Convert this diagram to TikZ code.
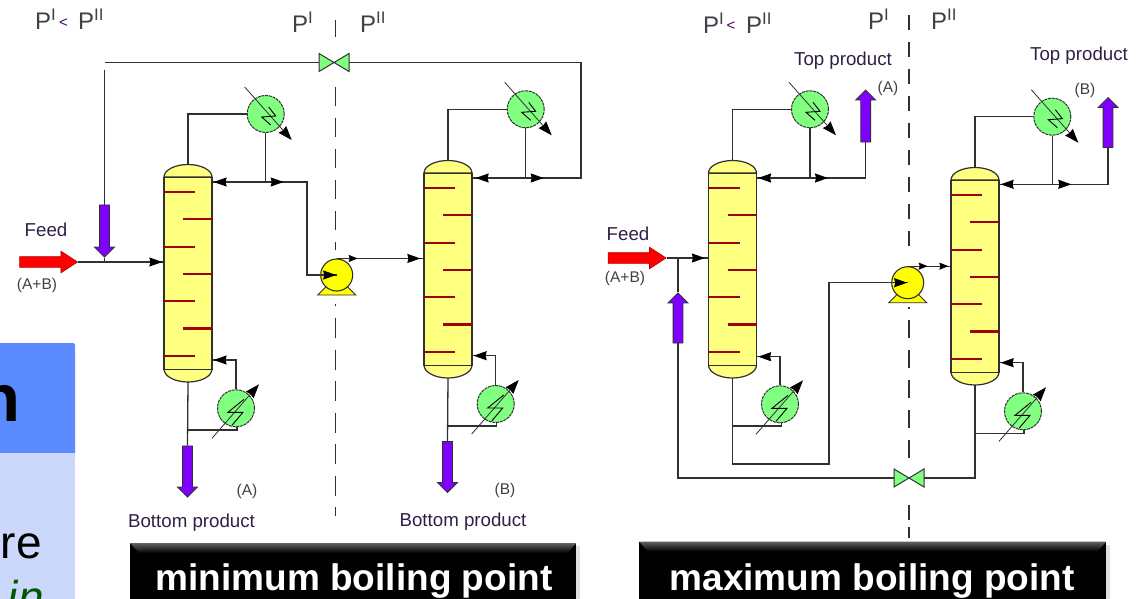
\documentclass[tikz,border=0pt]{standalone}
\usepackage{fontspec}
\setmainfont{Liberation Sans}
\usetikzlibrary{arrows.meta,decorations.markings,shapes.arrows}

\definecolor{shellyellow}{HTML}{FFFF80}
\definecolor{hxgreen}{HTML}{80FF80}
\definecolor{pumpyellow}{HTML}{FFFF00}
\definecolor{streampurple}{HTML}{8000FF}
\definecolor{traydark}{HTML}{A00000}
\definecolor{linedark}{HTML}{303030}
\definecolor{labelgrey}{HTML}{404048}
\definecolor{labelink}{HTML}{302048}
\definecolor{panelblue}{HTML}{5B8BFF}
\definecolor{panellight}{HTML}{CCD8FB}

\tikzset{
  shell/.style={draw=linedark,line width=1.2pt,fill=shellyellow},
  tray/.style={draw=traydark,line width=2.1pt},
  hxcircle/.style={circle,draw=linedark,dash pattern=on 3pt off 0.8pt,line width=1pt,fill=hxgreen,minimum size=37,inner sep=0},
  pumpcircle/.style={circle,draw=linedark,line width=1.1pt,fill=pumpyellow,minimum size=32,inner sep=0},
  wire/.style={draw=black,line width=0.9pt},
  coolant/.style={draw=linedark,line width=0.8pt,-{Stealth[length=14pt,width=10pt,inset=1pt,black]}},
  pipe/.style={draw=linedark,line width=1.3pt},
  divider/.style={draw=linedark,line width=1.3pt},
  tipat/.style={postaction={decorate,decoration={markings,
    mark=at position #1 with {\arrow{Stealth[length=13pt,width=9pt,inset=1pt,black]}}}}},
  smalltipat/.style={postaction={decorate,decoration={markings,
    mark=at position #1 with {\arrow{Stealth[length=9pt,width=7pt,inset=1pt,black]}}}}},
  valveside/.style={draw=linedark,line width=1pt,fill=hxgreen},
  blockarrow/.style={single arrow,draw=linedark,line width=0.8pt,fill=streampurple,inner xsep=0,inner ysep=4.5pt,
    single arrow head extend=5,single arrow head indent=0},
  feedarrow/.style={single arrow,draw=red!70!black,line width=0.6pt,fill=red,inner xsep=0,inner ysep=5pt,
    minimum height=58,single arrow head extend=5.5,single arrow tip angle=66},
  pressure/.style={text=labelgrey,font=\fontsize{24}{24}\selectfont,inner sep=0},
  lessthan/.style={text=red!40!blue!70!black,font=\fontsize{15}{15}\selectfont,inner sep=0},
  product/.style={text=labelink,font=\fontsize{18.7}{19}\selectfont,inner sep=0},
  species/.style={text=labelgrey,font=\fontsize{15.5}{16}\selectfont,inner sep=0},
  capbar/.style={fill=black,inner sep=0,anchor=north west},
  captext/.style={text=white,inner sep=0,anchor=base,font=\fontsize{37}{37}\bfseries\selectfont},
}

\newcommand{\pone}{P\textsuperscript{I}}
\newcommand{\ptwo}{P\textsuperscript{II}}

% name, x of axis, y of upper shoulder
\newcommand{\tower}[3]{
  \draw[shell] (#2-24,#3) arc[start angle=180,end angle=0,x radius=24pt,y radius=12.5pt] -- cycle;
  \draw[shell] (#2-24,#3+192) arc[start angle=180,end angle=360,x radius=24pt,y radius=13pt] -- cycle;
  \node[shell,minimum width=48,minimum height=192,anchor=north,inner sep=0] (tower#1) at (#2,#3) {};
  \coordinate (tower#1cap) at (#2,#3-12.5);
  \coordinate (tower#1base) at (#2,#3+205);
  \foreach \i in {0,2,4,6} \draw[tray] (#2-24,#3+15+27.3*\i) -- ++(31,0);
  \foreach \i in {1,3,5} \draw[tray] (#2+24,#3+15+27.3*\i) -- ++(-29,0);
}
% name, x, y
\newcommand{\condenser}[3]{
  \node[hxcircle] (cond#1) at (#2,#3) {};
  \draw[coolant] (#2-21,#3-27) -- (#2+26,#3+26);
  \draw[wire] (#2+3,#3-7) -- (#2+10,#3+2) -- (#2-4,#3+3) -- (#2+5,#3+11);
}
\newcommand{\reboiler}[3]{
  \node[hxcircle] (reb#1) at (#2,#3) {};
  \draw[coolant] (#2-24,#3+30) -- (#2+23,#3-24);
  \draw[wire] (#2+8,#3-9) -- (#2-8,#3+4) -- (#2+7,#3+4) -- (#2-4,#3+17);
}
\newcommand{\pump}[3]{
  \draw[fill=pumpyellow,draw=linedark,line width=0.9pt] (#2-19,#3+20) -- (#2+19,#3+20) -- (#2+9,#3+10) -- (#2-9,#3+10) -- cycle;
  \node[pumpcircle] (pump#1) at (#2,#3) {};
}
\newcommand{\valve}[3]{
  \node[inner sep=0,minimum width=30,minimum height=18] (valve#1) at (#2,#3) {};
  \draw[valveside] (#2-15,#3-9) -- (#2-15,#3+9) -- (#2,#3) -- cycle;
  \draw[valveside] (#2+15,#3-9) -- (#2+15,#3+9) -- (#2,#3) -- cycle;
}

\begin{document}
\begin{tikzpicture}[x=1pt,y=-1pt]
  \useasboundingbox (0,0) rectangle (1142,599);
  \fill[white] (0,0) rectangle (1142,599);

  % Slide panel cut off at the left edge
  \begin{scope}
    \clip (0,0) rectangle (1142,599);
    \fill[panelblue,rounded corners=2pt] (-5,343) rectangle (75,460);
    \fill[panellight] (-5,453) rectangle (75,604);
    \node[anchor=base east,inner sep=0,font=\fontsize{67}{67}\bfseries\selectfont] (panelhead) at (21,421) {n};
    \node[anchor=base east,inner sep=0,font=\fontsize{46}{46}\selectfont] (panelbody) at (42,558) {re};
    \node[anchor=base east,inner sep=0,text=green!35!black,font=\fontsize{46}{46}\itshape\selectfont] (panelnote) at (44,613) {in};
  \end{scope}

  % Pressure dividers
  \draw[divider] (335.5,20) -- (335.5,37);
  \draw[divider,dash pattern=on 19pt off 12pt] (335.5,87) -- (335.5,250);
  \draw[divider] (335.5,304) -- (335.5,306);
  \draw[divider,dash pattern=on 20pt off 11.5pt] (335.5,318) -- (335.5,516);
  \draw[divider,dash pattern=on 15pt off 12pt] (909,15) -- (909,255);
  \draw[divider] (909,307) -- (909,309);
  \draw[divider,dash pattern=on 18pt off 12pt] (909,320) -- (909,458);
  \draw[divider,dash pattern=on 15pt off 7pt] (909,505) -- (909,538);

  % Left pair
  \tower{A}{188}{177}
  \tower{B}{448}{173}
  \condenser{A}{265.7}{114}
  \condenser{B}{525.7}{109.3}
  \reboiler{A}{236}{408.3}
  \reboiler{B}{495.7}{404}
  \pump{A}{336.7}{275}
  \valve{A}{334}{62.5}

  % Right pair
  \tower{C}{732.5}{173}
  \tower{D}{975}{180}
  \condenser{C}{810}{109.3}
  \condenser{D}{1052.3}{116.7}
  \reboiler{C}{780}{404.3}
  \reboiler{D}{1023}{411.3}
  \pump{C}{907.7}{282.7}
  \valve{D}{909}{478}

  % Streams in and out
  \node[feedarrow] (feedA) at (44.5,262) {};
  \node[feedarrow] (feedC) at (633,258) {};
  \node[blockarrow,rotate=-90,minimum height=52] (injA) at (104.5,228.5) {};
  \node[blockarrow,rotate=-90,minimum height=51] (prodA) at (187.5,469) {};
  \node[blockarrow,rotate=-90,minimum height=51] (prodB) at (447.5,464.5) {};
  \node[blockarrow,rotate=90,minimum height=50] (injC) at (678,320.5) {};
  \node[blockarrow,rotate=90,minimum height=52] (prodC) at (865.7,118.5) {};
  \node[blockarrow,rotate=90,minimum height=50] (prodD) at (1108,125) {};

  \coordinate (jctA) at (condA.south |- 0,182);
  \coordinate (jctB) at (condB.south |- 0,178);
  \coordinate (jctC) at (condC.south |- 0,178);
  \coordinate (jctD) at (condD.south |- 0,184.3);
  \coordinate (junctionA) at (104.5,262);
  \coordinate (junctionC) at (678,258);
  \coordinate (recycleA) at (105,62.5);
  \coordinate (gapA) at (104.5,70);
  \coordinate (cornerB) at (581,62.5);
  \coordinate (bendA) at (307,275);
  \coordinate (loopC) at (829,464);
  \coordinate (boilA) at (237,430);
  \coordinate (boilB) at (496.7,426);
  \coordinate (boilC) at (781.7,426);
  \coordinate (boilD) at (1024,433.7);
  \coordinate (backA) at (0,360);
  \coordinate (backB) at (0,355.7);
  \coordinate (backC) at (0,356.7);
  \coordinate (backD) at (0,362.7);

  % Left pair pipes
  \draw[pipe] (towerAcap) |- (condA.west);
  \draw[pipe] (condA.south) -- (jctA);
  \draw[pipe,tipat=-1pt] (jctA) -- (towerA.east |- jctA);
  \draw[pipe,tipat=18pt,tipat=-0.5pt] (jctA) -| (bendA) -- (pumpA.center);
  \draw[pipe,smalltipat=21pt,tipat=-3pt] (pumpA.north) -- (towerB.west |- pumpA.north);
  \draw[pipe,tipat=-1pt] (feedA.tip) -- (towerA.west |- feedA.tip);
  \draw[pipe] (gapA) -- (injA.tail);
  \draw[pipe] (injA.tip) -- (junctionA);
  \draw[pipe] (recycleA) -- (valveA.west);
  \draw[pipe,tipat=18pt] (jctB) -| (cornerB) -- (valveA.east);
  \draw[pipe] (towerBcap) |- (condB.west);
  \draw[pipe] (condB.south) -- (jctB);
  \draw[pipe,tipat=-3pt] (jctB) -- (towerB.east |- jctB);
  \draw[pipe,tipat=-1pt] (rebA.north) |- (towerA.east |- backA);
  \draw[pipe,tipat=-1pt] (rebB.north) |- (towerB.east |- backB);
  \draw[pipe] (towerAbase) -- (prodA.tail);
  \draw[pipe] (towerBbase) -- (prodB.tail);
  \draw[pipe] (towerAbase |- boilA) -- (boilA) -- (rebA.south -| boilA);
  \draw[pipe] (towerBbase |- boilB) -- (boilB) -- (rebB.south -| boilB);

  % Right pair pipes
  \draw[pipe] (towerCcap) |- (condC.west);
  \draw[pipe] (condC.south) -- (jctC);
  \draw[pipe,tipat=-1pt] (jctC) -- (towerC.east |- jctC);
  \draw[pipe,tipat=18pt] (jctC) -| (prodC.tail);
  \draw[pipe] (towerDcap) |- (condD.west);
  \draw[pipe] (condD.south) -- (jctD);
  \draw[pipe,tipat=-1pt] (jctD) -- (towerD.east |- jctD);
  \draw[pipe,tipat=19pt] (jctD) -| (prodD.tail);
  \draw[pipe,tipat=-3pt] (feedC.tip) -- (towerC.west |- feedC.tip);
  \draw[pipe] (junctionC) -- (injC.tip);
  \draw[pipe] (injC.tail) |- (valveD.west);
  \draw[pipe] (valveD.east) -| (towerDbase);
  \draw[pipe,tipat=-0.5pt] (towerCbase) |- (loopC) |- (pumpC.center);
  \draw[pipe,smalltipat=20pt,smalltipat=-2pt] (pumpC.north) -- (towerD.west |- pumpC.north);
  \draw[pipe,tipat=-1pt] (rebC.north) |- (towerC.east |- backC);
  \draw[pipe,tipat=-1pt] (rebD.north) |- (towerD.east |- backD);
  \draw[pipe] (towerCbase |- boilC) -- (boilC) -- (rebC.south -| boilC);
  \draw[pipe] (towerDbase |- boilD) -- (boilD) -- (rebD.south -| boilD);

  % Labels
  \node[pressure,anchor=base west] (ratioA) at (35,30) {\pone};
  \node[lessthan] (signA) at (63.5,23) {<};
  \node[pressure,anchor=base west] (ratioAb) at (78,30) {\ptwo};
  \node[pressure,anchor=base west] (sideA) at (292,33) {\pone};
  \node[pressure,anchor=base west] (sideB) at (360,33) {\ptwo};
  \node[pressure,anchor=base west] (ratioC) at (703,34) {\pone};
  \node[lessthan] (signC) at (731,26) {<};
  \node[pressure,anchor=base west] (ratioCb) at (746,34) {\ptwo};
  \node[pressure,anchor=base west] (sideC) at (868,30) {\pone};
  \node[pressure,anchor=base west] (sideD) at (931,30) {\ptwo};
  \node[product] (feedtextA) at (46,230) {Feed};
  \node[species] (mixA) at (37,285) {(A+B)};
  \node[product] (feedtextC) at (628,234) {Feed};
  \node[species] (mixC) at (625,278) {(A+B)};
  \node[product] (topC) at (843,60.5) {Top product};
  \node[species] (speciesC) at (888,88) {(A)};
  \node[product] (topD) at (1079,55.5) {Top product};
  \node[species] (speciesD) at (1085,90) {(B)};
  \node[product] (bottomA) at (191.5,522.5) {Bottom product};
  \node[species] (speciesA) at (247,491) {(A)};
  \node[product] (bottomB) at (463,521.5) {Bottom product};
  \node[species] (speciesB) at (505,490) {(B)};

  % Caption bars
  \fill[black!12] (576,546) rectangle (580,599);
  \fill[black!12] (1106,545) rectangle (1110,599);
  \node[capbar,minimum width=446,minimum height=56] (barA) at (130,543) {};
  \node[capbar,minimum width=467,minimum height=58] (barC) at (639,541.5) {};
  \shade[top color=black!62,bottom color=black] (barA.north west) -- (barA.north east) -- ([xshift=-9pt,yshift=-10pt]barA.north east) -- ([xshift=9pt,yshift=-10pt]barA.north west) -- cycle;
  \shade[top color=black!62,bottom color=black] (barC.north west) -- (barC.north east) -- ([xshift=-9pt,yshift=-10pt]barC.north east) -- ([xshift=9pt,yshift=-10pt]barC.north west) -- cycle;
  \node[captext] (titleA) at (354,590) {minimum boiling point};
  \node[captext] (titleC) at (872,590) {maximum boiling point};
\end{tikzpicture}
\end{document}
